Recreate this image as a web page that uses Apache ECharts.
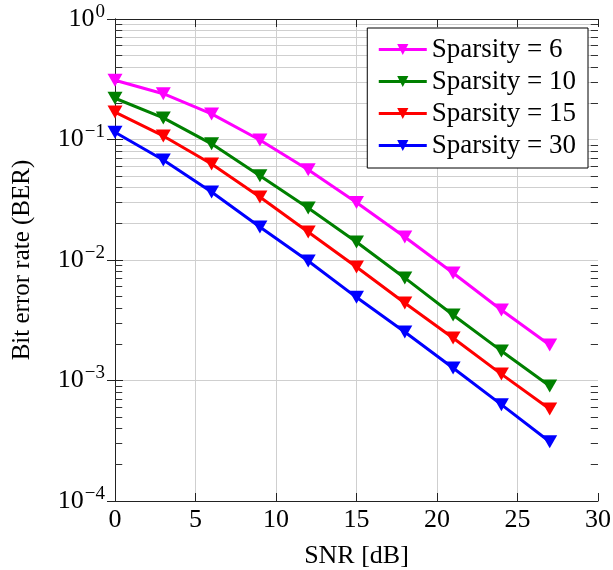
<!DOCTYPE html>
<html>
<head>
<meta charset="utf-8">
<script src="https://cdn.jsdelivr.net/npm/echarts@6/dist/echarts.min.js"></script>
<style>html,body{margin:0;padding:0;background:#fff}#c{width:613px;height:570px}</style>
</head>
<body>
<div id="c"></div>
<script>
const snr = [0, 3, 6, 9, 12, 15, 18, 21, 24, 27];
const ber6  = [0.31, 0.24, 0.163, 0.099, 0.056, 0.030, 0.0155, 0.0078, 0.00385, 0.00197];
const ber10 = [0.22, 0.151, 0.092, 0.050, 0.027, 0.0141, 0.0071, 0.0035, 0.00176, 0.0009];
const ber15 = [0.169, 0.107, 0.0626, 0.0333, 0.0171, 0.00874, 0.0044, 0.00225, 0.00113, 0.00058];
const ber30 = [0.115, 0.0676, 0.0367, 0.0188, 0.0098, 0.0049, 0.00253, 0.00127, 0.00063, 0.00031];
const seriesNames = ['Sparsity = 6', 'Sparsity = 10', 'Sparsity = 15', 'Sparsity = 30'];
const seriesColors = ['#ff00ff', '#008000', '#ff0000', '#0000ff'];
const xTicks = [0, 5, 10, 15, 20, 25, 30];
const yMin = 1e-4, yMax = 1;

const FONT = 'Liberation Serif';
const allData = [ber6, ber10, ber15, ber30];

// minor grid values 2..9 x 10^k
const minorVals = [];
for (let e = -4; e < 0; e++) for (let m = 2; m <= 9; m++) minorVals.push(m * Math.pow(10, e));

const gridLines = [];
minorVals.forEach(v => gridLines.push({yAxis: v}));
[5, 10, 15, 20, 25].forEach(v => gridLines.push({xAxis: v}));

const tickLen = 0.45;
const minorTicks = [];
minorVals.forEach(v => {
  minorTicks.push([{coord: [0, v]}, {coord: [tickLen, v]}]);
  minorTicks.push([{coord: [30 - tickLen, v]}, {coord: [30, v]}]);
});

const series = [{
  type: 'line', data: [], silent: true, z: 0,
  markLine: {
    silent: true, symbol: 'none', animation: false, z: 0,
    label: {show: false},
    lineStyle: {color: '#cfcfcf', width: 1, type: 'solid'},
    data: gridLines
  }
}, {
  type: 'line', data: [], silent: true, z: 0,
  markLine: {
    silent: true, symbol: 'none', animation: false, z: 1,
    label: {show: false},
    lineStyle: {color: '#333', width: 1, type: 'solid'},
    data: minorTicks
  }
}];
allData.forEach((d, i) => {
  series.push({
    name: seriesNames[i], type: 'line', z: 5,
    data: snr.map((x, j) => [x, d[j]]),
    symbol: 'triangle', symbolRotate: 180, symbolSize: [15, 13],
    lineStyle: {width: 3, color: seriesColors[i]},
    itemStyle: {color: seriesColors[i]},
    animation: false
  });
});

const chart = echarts.init(document.getElementById('c'));
chart.setOption({
  animation: false,
  grid: {left: 115, right: 15, top: 19, bottom: 69, containLabel: false, outerBoundsMode: 'none'},
  legend: {
    data: seriesNames, orient: 'vertical', right: 25, top: 28, z: 20,
    backgroundColor: '#fff', borderColor: '#000', borderWidth: 1,
    padding: [8, 12, 9, 10], itemWidth: 48, itemHeight: 14, itemGap: 5,
    lineStyle: {width: 3},
    textStyle: {fontFamily: FONT, fontSize: 27, color: '#000'}
  },
  xAxis: [{
    type: 'value', min: 0, max: 30, interval: 5,
    axisLine: {show: true, lineStyle: {color: '#222', width: 1}},
    axisTick: {show: true, inside: true, length: 8, lineStyle: {color: '#222'}},
    splitLine: {show: false},
    axisLabel: {fontFamily: FONT, fontSize: 26, color: '#000', margin: 6},
    name: 'SNR [dB]', nameLocation: 'middle', nameGap: 42,
    nameTextStyle: {fontFamily: FONT, fontSize: 26, color: '#000'}
  }, {
    type: 'value', min: 0, max: 30, interval: 5, position: 'top',
    axisLine: {show: true, lineStyle: {color: '#222', width: 1}},
    axisTick: {show: true, inside: true, length: 8, lineStyle: {color: '#222'}},
    axisLabel: {show: false}, splitLine: {show: false}
  }],
  yAxis: [{
    type: 'log', logBase: 10, min: yMin, max: yMax,
    axisLine: {show: true, lineStyle: {color: '#222', width: 1}},
    axisTick: {show: true, inside: true, length: 8, lineStyle: {color: '#222'}},
    splitLine: {show: true, lineStyle: {color: '#cfcfcf', width: 1}},
    axisLabel: {
      margin: 10, color: '#000',
      formatter: v => '{b|10}{s|' + (Math.round(Math.log10(v)) === 0 ? '0' : '\u2212' + (-Math.round(Math.log10(v)))) + '}',
      rich: {
        b: {fontFamily: FONT, fontSize: 26, color: '#000'},
        s: {fontFamily: FONT, fontSize: 19, color: '#000', padding: [0, 0, 14, 1]}
      }
    },
    name: 'Bit error rate (BER)', nameLocation: 'middle', nameGap: 80, nameRotate: 90,
    nameTextStyle: {fontFamily: FONT, fontSize: 25, color: '#000'}
  }, {
    type: 'log', logBase: 10, min: yMin, max: yMax, position: 'right',
    axisLine: {show: true, lineStyle: {color: '#222', width: 1}},
    axisTick: {show: true, inside: true, length: 8, lineStyle: {color: '#222'}},
    axisLabel: {show: false}, splitLine: {show: false}
  }],
  series: series
});
</script>
</body>
</html>
